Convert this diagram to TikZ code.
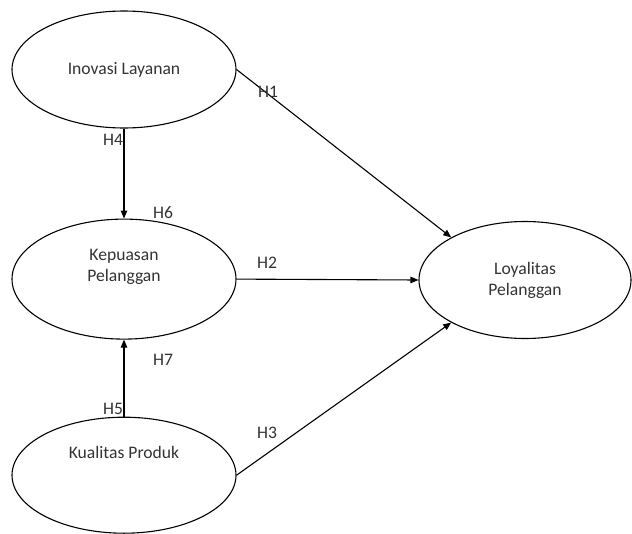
\documentclass[tikz,border=0pt]{standalone}
\usepackage{fontspec}
\setmainfont{Carlito}
\usepackage{tikz}
\usetikzlibrary{positioning, arrows.meta, shapes.geometric}
\definecolor{vartext}{HTML}{333333}

\begin{document}
\begin{tikzpicture}[x=1pt, y=-1pt, font=\fontsize{17.6}{20.8}\selectfont,
    var/.style={ellipse, draw, line width=1.1pt, minimum width=224pt, inner sep=0pt, text=vartext, align=center},
    link/.style={-{Triangle[length=8pt, width=6.5pt]}, line width=1.1pt},
    hyp/.style={text=vartext, inner sep=0pt}]
  \useasboundingbox (0,0) rectangle (632,533);
  \node[var, minimum height=117pt] (inovasi) at (124,69.5) {Inovasi Layanan};
  \node[var, minimum height=120pt, below=90pt of inovasi,
        label={[align=center, text=vartext, yshift=12pt]center:Kepuasan\\Pelanggan}] (kepuasan) {};
  \node[var, minimum height=116pt, below=77pt of kepuasan,
        label={[text=vartext, yshift=23pt]center:Kualitas Produk}] (kualitas) {};
  \node[var, minimum width=212pt, minimum height=117pt] (loyalitas) at (525,280) {Loyalitas\\Pelanggan};

  \draw[link] (inovasi.east) -- (loyalitas.150);
  \draw[link] (kepuasan.east) -- (loyalitas.west);
  \draw[link] (kualitas.east) -- (loyalitas.210);
  \draw[link] (inovasi.south) -- (kepuasan.north);
  \draw[link] (kualitas.north) -- (kepuasan.south);

  \node[hyp] (h1) at (268,92) {H1};
  \node[hyp] (h2) at (267,263) {H2};
  \node[hyp] (h3) at (267,433) {H3};
  \node[hyp] (h4) at (113,140) {H4};
  \node[hyp] (h5) at (113,409) {H5};
  \node[hyp] (h6) at (163,213) {H6};
  \node[hyp] (h7) at (163,360) {H7};
\end{tikzpicture}
\end{document}
